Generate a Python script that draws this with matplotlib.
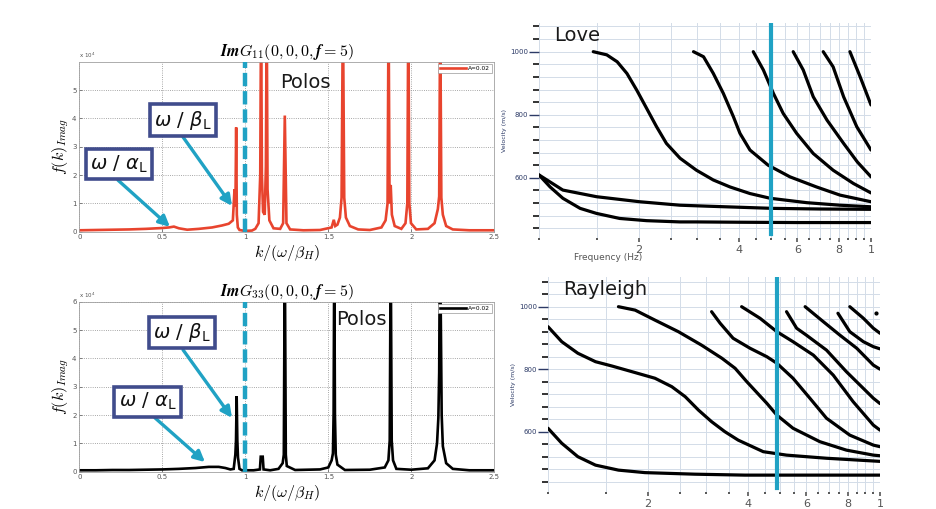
import matplotlib
matplotlib.use("Agg")
import matplotlib.pyplot as plt
import numpy as np
from matplotlib.ticker import FixedLocator, NullFormatter

# ---------------- data: left spectra (values in units of 1e4) ----------------
k_g11 = [0.00, 0.10, 0.20, 0.30, 0.40, 0.50, 0.54, 0.57, 0.60, 0.65, 0.72, 0.80, 0.86, 0.90, 0.925,
         0.935, 0.938, 0.941, 0.945, 0.949, 0.955, 0.965, 0.985, 1.00, 1.04, 1.06, 1.08, 1.090, 1.095,
         1.100, 1.107, 1.117, 1.124, 1.129, 1.134, 1.145, 1.17, 1.21, 1.228, 1.238, 1.248, 1.27, 1.35,
         1.45, 1.52, 1.533, 1.542, 1.555, 1.570, 1.580, 1.588, 1.596, 1.606, 1.63, 1.68, 1.75, 1.82,
         1.845, 1.857, 1.863, 1.869, 1.876, 1.883, 1.90, 1.94, 1.965, 1.976, 1.982, 1.988, 1.998, 2.03,
         2.10, 2.14, 2.160, 2.168, 2.174, 2.181, 2.190, 2.21, 2.25, 2.35, 2.50]
f_g11 = [0.05, 0.06, 0.07, 0.08, 0.10, 0.13, 0.15, 0.18, 0.12, 0.07, 0.10, 0.15, 0.22, 0.28, 0.40,
         1.50, 0.90, 1.20, 3.68, 0.60, 0.15, 0.06, 0.04, 0.03, 0.04, 0.10, 0.30, 2.00, 8.00,
         2.00, 0.70, 0.60, 2.30, 8.00, 1.50, 0.40, 0.12, 0.10, 0.30, 4.10, 0.30, 0.08, 0.05,
         0.06, 0.15, 0.42, 0.20, 0.25, 0.50, 1.20, 8.00, 1.20, 0.50, 0.20, 0.08, 0.06, 0.15,
         0.40, 1.00, 8.00, 1.00, 1.65, 0.60, 0.20, 0.10, 0.30, 1.00, 8.00, 1.00, 0.30, 0.08,
         0.10, 0.30, 0.80, 1.25, 8.00, 1.20, 0.60, 0.20, 0.08, 0.05, 0.05]

k_g33 = [0.00, 0.10, 0.20, 0.30, 0.40, 0.50, 0.60, 0.70, 0.78, 0.84, 0.88, 0.91, 0.93, 0.940, 0.944,
         0.948, 0.952, 0.956, 0.965, 0.98, 1.05, 1.088, 1.093, 1.105, 1.110, 1.15, 1.20, 1.225, 1.232,
         1.238, 1.244, 1.25, 1.30, 1.45, 1.50, 1.52, 1.528, 1.532, 1.536, 1.540, 1.545, 1.555, 1.60,
         1.75, 1.84, 1.862, 1.870, 1.876, 1.882, 1.890, 1.91, 2.00, 2.10, 2.14, 2.155, 2.163, 2.168,
         2.172, 2.178, 2.183, 2.190, 2.21, 2.25, 2.35, 2.50]
f_g33 = [0.05, 0.05, 0.06, 0.06, 0.07, 0.08, 0.10, 0.13, 0.17, 0.17, 0.13, 0.08, 0.10, 0.60, 1.10,
         2.67, 1.10, 0.50, 0.10, 0.05, 0.05, 0.08, 0.53, 0.53, 0.08, 0.05, 0.10, 0.30, 0.60,
         8.00, 0.60, 0.20, 0.06, 0.08, 0.15, 0.40, 0.65, 2.06, 8.00, 2.00, 0.60, 0.25, 0.06,
         0.07, 0.15, 0.40, 1.10, 8.00, 1.10, 0.40, 0.10, 0.07, 0.12, 0.40, 1.00, 1.90, 3.50,
         8.00, 5.30, 2.00, 0.90, 0.30, 0.10, 0.05, 0.05]

k_ticks = [0, 0.5, 1, 1.5, 2, 2.5]
k_ticklabels = ["0", "0.5", "1", "1.5", "2", "2.5"]
f_ticks_g11 = [0, 1, 2, 3, 4, 5]
f_ticks_g33 = [0, 1, 2, 3, 4, 5, 6]
pole_ref = 1.0

# ---------------- data: Love dispersion curves (Hz, m/s) ----------------
love_f0 = [1.00, 1.08, 1.18, 1.33, 1.49, 1.75, 2.11, 2.66, 2.98, 4.0, 6.0, 10.0]
love_v0 = [609, 571, 535, 503, 487, 471, 464, 460, 460, 459, 458, 458]
love_f1 = [1.00, 1.18, 1.49, 2.01, 2.66, 3.20, 5.06, 7.0, 10.0]
love_v1 = [609, 561, 540, 524, 513, 510, 503, 501, 500]
love_f2 = [1.457, 1.60, 1.72, 1.84, 1.97, 2.11, 2.26, 2.42, 2.66, 2.98, 3.35, 3.76, 4.32, 4.97,
           6.41, 8.07, 10.0]
love_v2 = [1000, 990, 968, 931, 878, 820, 762, 709, 662, 624, 593, 571, 550, 535, 521, 513, 508]
love_f3 = [2.92, 3.13, 3.35, 3.59, 3.85, 4.03, 4.32, 4.90, 5.70, 6.85, 8.07, 10.0]
love_v3 = [1000, 984, 931, 868, 794, 741, 688, 640, 603, 571, 545, 524]
love_f4 = [4.42, 4.74, 5.08, 5.44, 5.97, 6.70, 7.69, 8.85, 10.0]
love_v4 = [1000, 942, 868, 804, 741, 677, 624, 582, 552]
love_f5 = [5.83, 6.25, 6.70, 7.37, 8.27, 9.1, 10.0]
love_v5 = [1000, 942, 857, 783, 709, 650, 603]
love_f6 = [7.18, 7.69, 8.27, 9.06, 10.0]
love_v6 = [1000, 952, 857, 762, 688]
love_f7 = [8.64, 9.27, 10.0]
love_v7 = [1000, 921, 831]
love_marker = 5.0

# ---------------- data: Rayleigh dispersion curves (Hz, m/s) ----------------
ray_f0 = [1.00, 1.10, 1.23, 1.39, 1.63, 1.96, 2.77, 3.92, 6.0, 10.0]
ray_v0 = [611, 563, 520, 493, 477, 469, 464, 461, 461, 461]
ray_f1 = [1.00, 1.10, 1.23, 1.39, 1.56, 1.79, 2.10, 2.36, 2.59, 2.84, 3.11, 3.41, 3.74, 4.45,
          5.23, 6.90, 10.0]
ray_v1 = [936, 888, 851, 824, 810, 792, 771, 744, 712, 669, 632, 600, 573, 536, 525, 515, 505]
ray_f2 = [1.63, 1.83, 2.10, 2.47, 2.90, 3.34, 3.66, 3.97, 4.56, 4.89, 5.47, 6.59, 7.92, 9.55, 10.0]
ray_v2 = [1000, 989, 957, 920, 877, 835, 803, 760, 691, 653, 611, 568, 541, 525, 523]
ray_f3 = [3.11, 3.30, 3.61, 4.06, 4.56, 4.89, 5.47, 6.15, 6.90, 8.11, 9.55, 10.0]
ray_v3 = [984, 947, 899, 867, 840, 819, 771, 707, 643, 589, 557, 552]
ray_f4 = [3.83, 4.35, 4.89, 5.47, 6.30, 7.23, 8.30, 9.55, 10.0]
ray_v4 = [1000, 963, 920, 888, 845, 781, 696, 621, 605]
ray_f5 = [5.23, 5.61, 6.00, 6.90, 7.92, 9.55, 10.0]
ray_v5 = [984, 931, 909, 861, 792, 707, 690]
ray_f6 = [5.95, 6.75, 7.57, 8.51, 9.55, 10.0]
ray_v6 = [1000, 952, 909, 867, 813, 800]
ray_f7 = [7.47, 8.11, 8.91, 9.55, 10.0]
ray_v7 = [979, 920, 888, 872, 865]
ray_f8 = [8.11, 8.91, 9.55, 10.0]
ray_v8 = [1000, 963, 931, 915]
ray_dot_f = [9.7]
ray_dot_v = [979]
ray_marker = 4.9

vel_major = [600, 800, 1000]
vel_minor = [440, 480, 520, 560, 640, 680, 720, 760, 840, 880, 920, 960, 1040, 1080]
freq_major = [2, 4, 6, 8, 10]
freq_major_labels = ["2", "4", "6", "8", "1"]
freq_minor = [1, 1.5, 2.5, 3, 3.5, 4.5, 5, 5.5, 6.5, 7, 7.5, 8.5, 9, 9.5]

# ---------------- styling ----------------
W, H = 936, 509
fig = plt.figure(figsize=(W / 100, H / 100), dpi=100)
fig.patch.set_facecolor("white")

CYAN = "#20a2c4"
RED = "#e8442e"
BOXEDGE = "#404c8c"


def px_axes(x0, y0, x1, y1):
    return fig.add_axes([x0 / W, 1 - y1 / H, (x1 - x0) / W, (y1 - y0) / H])


def spectrum_panel(ax, k, f, color, title, yticks, boxes, arrows, polos_xy):
    ax.plot(k, f, color=color, lw=1.9, label="A=0.02", solid_joinstyle="miter")
    ax.set_xlim(0, 2.5)
    ax.set_ylim(0, 6)
    ax.set_xticks(k_ticks)
    ax.set_xticklabels(k_ticklabels)
    ax.set_yticks(yticks)
    ax.set_yticklabels([str(t) for t in yticks])
    ax.tick_params(labelsize=5, colors="#555555", length=2, width=0.5, direction="in", pad=2)
    ax.grid(True, ls=":", color="#8a8a8a", lw=0.6)
    for s in ax.spines.values():
        s.set_color("#a0a0a0")
        s.set_linewidth(0.6)
    ax.axvline(pole_ref, color=CYAN, lw=3.2, dashes=(3.0, 1.1), zorder=4)
    ax.set_title(title, fontsize=11.5, math_fontfamily="cm", pad=3)
    ax.set_xlabel(r"$k/(\omega/\beta_H)$", fontsize=11.5, math_fontfamily="cm", labelpad=2)
    ax.set_ylabel(r"$f(k)_{Imag}$", fontsize=11.5, math_fontfamily="cm", labelpad=1)
    ax.text(0.0, 1.01, r"x 10$^4$", transform=ax.transAxes, fontsize=4, color="#555555",
            va="bottom", ha="left")
    leg = ax.legend(loc="upper right", fontsize=4.2, handlelength=4.5, borderpad=0.3,
                    fancybox=False, edgecolor="#999999", framealpha=1, borderaxespad=0.4,
                    handletextpad=0.3)
    leg.get_frame().set_linewidth(0.5)
    for (xs, ys, xt, yt) in arrows:
        ax.annotate("", xy=(xt, yt), xytext=(xs, ys),
                    arrowprops=dict(arrowstyle="-|>", color=CYAN, lw=2.4, mutation_scale=16,
                                    shrinkA=0, shrinkB=0), zorder=6)
    for (bx, by, txt) in boxes:
        ax.text(bx, by, txt, fontsize=14, math_fontfamily="dejavusans", ha="center", va="center",
                color="#111111", zorder=7,
                bbox=dict(boxstyle="square,pad=0.22", fc="white", ec=BOXEDGE, lw=2.6))
    ax.text(polos_xy[0], polos_xy[1], "Polos", fontsize=14, color="#1a1a1a", ha="center",
            va="center", zorder=7)


beta_txt = r"$\omega\ /\ \beta_{\mathrm{L}}$"
alpha_txt = r"$\omega\ /\ \alpha_{\mathrm{L}}$"

ax1 = px_axes(79.3, 61.7, 494.3, 231.7)
spectrum_panel(ax1, k_g11, f_g11, RED, r"$\boldsymbol{ImG_{11}(0,0,0,f=5)}$", f_ticks_g11,
               [(0.622, 3.94, beta_txt), (0.240, 2.38, alpha_txt)],
               [(0.625, 3.34, 0.92, 0.91), (0.233, 1.82, 0.546, 0.17)],
               (1.36, 5.25))

ax2 = px_axes(79.3, 301.7, 494.3, 471.7)
spectrum_panel(ax2, k_g33, f_g33, "black", r"$\boldsymbol{ImG_{33}(0,0,0,f=5)}$", f_ticks_g33,
               [(0.617, 4.92, beta_txt), (0.411, 2.47, alpha_txt)],
               [(0.625, 4.30, 0.92, 1.90), (0.456, 1.90, 0.757, 0.34)],
               (1.70, 5.38))


def dispersion_panel(ax, curves, marker, label, ylo, yhi, show_xlabel):
    ax.set_xscale("log")
    ax.set_xlim(1, 10)
    ax.set_ylim(ylo, yhi)
    for s in ax.spines.values():
        s.set_visible(False)
    for v in vel_major + vel_minor:
        ax.axhline(v, color="#d3dce8", lw=0.7, zorder=0)
    for f in freq_major + freq_minor:
        ax.axvline(f, color="#d3dce8", lw=0.7, zorder=0)
    for f, v in curves:
        ax.plot(f, v, color="black", lw=2.3, solid_capstyle="round", solid_joinstyle="round",
                zorder=3)
    ax.axvline(marker, color=CYAN, lw=3.0, zorder=4, ymin=0.02, ymax=1.0)
    ax.yaxis.set_major_locator(FixedLocator(vel_major))
    ax.yaxis.set_minor_locator(FixedLocator(vel_minor))
    ax.set_yticklabels([str(v) for v in vel_major])
    ax.yaxis.set_minor_formatter(NullFormatter())
    ax.tick_params(axis="y", which="major", length=7, width=1.0, labelsize=5, colors="#2c3a66",
                   pad=1)
    ax.tick_params(axis="y", which="minor", length=4, width=1.4, colors="#333333")
    ax.xaxis.set_major_locator(FixedLocator(freq_major))
    ax.xaxis.set_minor_locator(FixedLocator(freq_minor))
    ax.set_xticklabels(freq_major_labels)
    ax.xaxis.set_minor_formatter(NullFormatter())
    ax.tick_params(axis="x", which="major", length=3, width=1.2, labelsize=8, colors="#555555",
                   pad=2)
    ax.tick_params(axis="x", which="minor", length=1.5, width=1.4, colors="#555555")
    ax.set_ylabel("Velocity (m/s)", fontsize=4.5, color="#2c3a66", labelpad=2)
    if show_xlabel:
        ax.set_xlabel("Frequency (Hz)", fontsize=6.5, color="#555555", labelpad=1)
        ax.xaxis.set_label_coords((608 - 539) / 332, -0.07)
    ax.text(0.045, 0.985, label, transform=ax.transAxes, fontsize=14, color="#1a1a1a",
            ha="left", va="top")


ax3 = px_axes(539, 23, 871, 238)
love_curves = [(love_f0, love_v0), (love_f1, love_v1), (love_f2, love_v2), (love_f3, love_v3),
               (love_f4, love_v4), (love_f5, love_v5), (love_f6, love_v6), (love_f7, love_v7)]
dispersion_panel(ax3, love_curves, love_marker, "Love", 409, 1091, True)

ax4 = px_axes(548, 277, 880, 492)
ray_curves = [(ray_f0, ray_v0), (ray_f1, ray_v1), (ray_f2, ray_v2), (ray_f3, ray_v3),
              (ray_f4, ray_v4), (ray_f5, ray_v5), (ray_f6, ray_v6), (ray_f7, ray_v7),
              (ray_f8, ray_v8)]
dispersion_panel(ax4, ray_curves, ray_marker, "Rayleigh", 407, 1095, False)
ax4.plot(ray_dot_f, ray_dot_v, "o", color="black", ms=2)

fig.savefig("out.png", dpi=100)
